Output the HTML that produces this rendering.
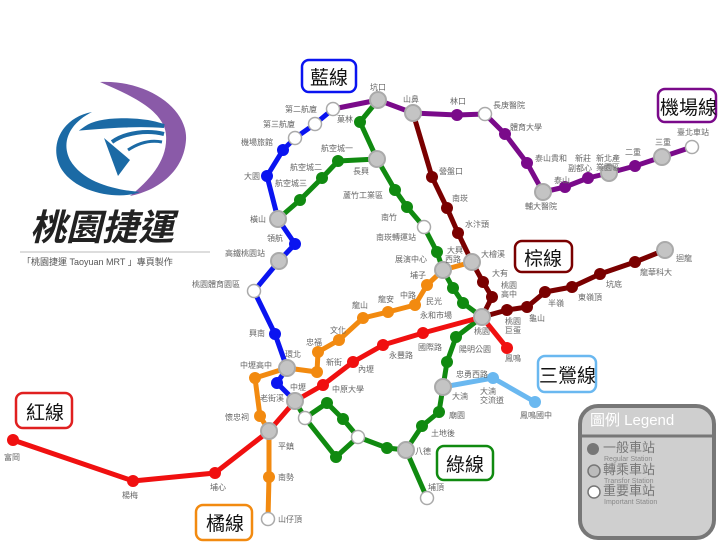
<!DOCTYPE html>
<html><head><meta charset="utf-8"><style>
html,body{margin:0;padding:0;background:#fff;}
svg{display:block;}
text{font-family:"Liberation Sans","Noto Sans CJK TC",sans-serif;}
.l{font-size:8px;fill:#666;}
</style></head><body>
<svg width="720" height="545" viewBox="0 0 720 545" xmlns="http://www.w3.org/2000/svg">
<rect width="720" height="545" fill="#fff"/>
<!-- logo -->
<path d="M100,82 C150,80 188,110 186,140 C184,170 160,190 130,196 C150,180 168,160 166,135 C164,110 130,95 100,82 Z" fill="#8a5aa8"/>
<path d="M92,112 C60,118 48,148 62,170 C78,194 120,200 140,192 C118,190 84,184 70,160 C60,140 72,122 92,112 Z" fill="#1b6aa5"/>
<path d="M86,128 C100,118 140,118 164,126 C140,124 108,126 86,128 Z" fill="#1b6aa5" stroke="#1b6aa5" stroke-width="4"/>
<path d="M112,142 C126,132 148,130 164,134" fill="none" stroke="#1b6aa5" stroke-width="4"/>
<path d="M128,150 C140,142 152,140 162,142" fill="none" stroke="#1b6aa5" stroke-width="3"/>
<path d="M104,138 L118,176 L130,160 Z" fill="#1b6aa5"/>
<text x="30" y="240" font-size="36" font-style="italic" font-weight="bold" fill="#222">桃園捷運</text>
<line x1="20" y1="252" x2="210" y2="252" stroke="#bbb" stroke-width="1"/>
<text x="22" y="265" font-size="9" fill="#555">「桃園捷運 Taoyuan MRT 」專頁製作</text>

<g fill="none" stroke-linecap="round" stroke-linejoin="round" stroke-width="5">
<polyline stroke="#0a14f0" points="333,109 315,124 295,138 283,150 267,176 278,219 295,244 279,261 254,291 275,334 287,368"/>
<polyline stroke="#0a14f0" points="287,368 277,383 295,401"/>
<polyline stroke="#7a0a8a" points="333,109 378,100 413,113 457,115 485,114 505,134 527,163 543,192 565,187 588,178 609,173 635,166 662,157 692,147"/>
<polyline stroke="#7a0000" points="413,113 432,177 447,208 458,233 472,262 483,282 492,297 482,317"/>
<polyline stroke="#7a0000" points="482,317 507,310 527,307 545,292 572,287 600,274 635,262 665,250"/>
<polyline stroke="#108a10" points="378,100 360,122 377,159 395,190 407,207 424,227 437,252 443,270 453,288 463,303 482,317 456,337 447,362 443,387 439,412 422,426 406,450 427,498"/>
<polyline stroke="#108a10" points="377,159 338,161 322,178 300,200 278,219"/>
<polyline stroke="#108a10" points="406,450 387,448 358,437 343,419 327,403 305,418 336,457 358,437"/>
<polyline stroke="#108a10" points="295,401 305,418"/>
<polyline stroke="#f28a10" points="472,262 443,270 427,285 415,305 388,312 363,318 339,340 318,352 317,372 287,368 255,378 260,416 269,431 269,477 268,519"/>
<polyline stroke="#f01010" points="13,440 133,481 215,473 269,431 295,401 323,385 353,362 383,345 423,333 482,317 507,348"/>
<polyline stroke="#6ab8f0" points="443,387 493,378 535,402"/>
</g>

<g>
<g fill="#0a14f0"><circle cx="283" cy="150" r="6"/><circle cx="267" cy="176" r="6"/><circle cx="295" cy="244" r="6"/><circle cx="275" cy="334" r="6"/><circle cx="277" cy="383" r="6"/></g>
<g fill="#7a0a8a"><circle cx="457" cy="115" r="6"/><circle cx="505" cy="134" r="6"/><circle cx="527" cy="163" r="6"/><circle cx="565" cy="187" r="6"/><circle cx="588" cy="178" r="6"/><circle cx="635" cy="166" r="6"/></g>
<g fill="#7a0000"><circle cx="432" cy="177" r="6"/><circle cx="447" cy="208" r="6"/><circle cx="458" cy="233" r="6"/><circle cx="483" cy="282" r="6"/><circle cx="492" cy="297" r="6"/><circle cx="507" cy="310" r="6"/><circle cx="527" cy="307" r="6"/><circle cx="545" cy="292" r="6"/><circle cx="572" cy="287" r="6"/><circle cx="600" cy="274" r="6"/><circle cx="635" cy="262" r="6"/></g>
<g fill="#108a10"><circle cx="360" cy="122" r="6"/><circle cx="338" cy="161" r="6"/><circle cx="322" cy="178" r="6"/><circle cx="300" cy="200" r="6"/><circle cx="395" cy="190" r="6"/><circle cx="407" cy="207" r="6"/><circle cx="437" cy="252" r="6"/><circle cx="453" cy="288" r="6"/><circle cx="463" cy="303" r="6"/><circle cx="456" cy="337" r="6"/><circle cx="447" cy="362" r="6"/><circle cx="439" cy="412" r="6"/><circle cx="422" cy="426" r="6"/><circle cx="387" cy="448" r="6"/><circle cx="343" cy="419" r="6"/><circle cx="327" cy="403" r="6"/><circle cx="336" cy="457" r="6"/></g>
<g fill="#f28a10"><circle cx="427" cy="285" r="6"/><circle cx="415" cy="305" r="6"/><circle cx="388" cy="312" r="6"/><circle cx="363" cy="318" r="6"/><circle cx="339" cy="340" r="6"/><circle cx="318" cy="352" r="6"/><circle cx="317" cy="372" r="6"/><circle cx="255" cy="378" r="6"/><circle cx="260" cy="416" r="6"/><circle cx="269" cy="477" r="6"/></g>
<g fill="#f01010"><circle cx="13" cy="440" r="6"/><circle cx="133" cy="481" r="6"/><circle cx="215" cy="473" r="6"/><circle cx="323" cy="385" r="6"/><circle cx="353" cy="362" r="6"/><circle cx="383" cy="345" r="6"/><circle cx="423" cy="333" r="6"/><circle cx="507" cy="348" r="6"/></g>
<g fill="#6ab8f0"><circle cx="493" cy="378" r="6"/><circle cx="535" cy="402" r="6"/></g>
</g>
<g fill="#c4c4c4" stroke="#aaa" stroke-width="2">
<circle cx="378" cy="100" r="8"/><circle cx="413" cy="113" r="8"/><circle cx="377" cy="159" r="8"/><circle cx="278" cy="219" r="8"/><circle cx="279" cy="261" r="8"/><circle cx="443" cy="270" r="8"/><circle cx="472" cy="262" r="8"/><circle cx="482" cy="317" r="8"/><circle cx="543" cy="192" r="8"/><circle cx="609" cy="173" r="8"/><circle cx="662" cy="157" r="8"/><circle cx="665" cy="250" r="8"/><circle cx="287" cy="368" r="8"/><circle cx="295" cy="401" r="8"/><circle cx="269" cy="431" r="8"/><circle cx="443" cy="387" r="8"/><circle cx="406" cy="450" r="8"/>
</g>
<g fill="#fff" stroke="#aaa" stroke-width="1.5">
<circle cx="333" cy="109" r="6.5"/><circle cx="315" cy="124" r="6.5"/><circle cx="295" cy="138" r="6.5"/><circle cx="254" cy="291" r="6.5"/><circle cx="485" cy="114" r="6.5"/><circle cx="692" cy="147" r="6.5"/><circle cx="424" cy="227" r="6.5"/><circle cx="305" cy="418" r="6.5"/><circle cx="358" cy="437" r="6.5"/><circle cx="427" cy="498" r="6.5"/><circle cx="268" cy="519" r="6.5"/>
</g>

<g class="l">
<text x="370" y="90">坑口</text><text x="403" y="102">山鼻</text><text x="450" y="104">林口</text><text x="493" y="108">長庚醫院</text><text x="510" y="130">體育大學</text><text x="535" y="161">泰山貴和</text><text x="575" y="161">新莊</text><text x="568" y="171">副都心</text><text x="554" y="183">泰山</text><text x="596" y="161">新北產</text><text x="596" y="170">業園區</text><text x="625" y="155">二重</text><text x="655" y="145">三重</text><text x="677" y="135">臺北車站</text><text x="525" y="209">輔大醫院</text>
<text x="285" y="112">第二航廈</text><text x="263" y="127">第三航廈</text><text x="241" y="145">機場旅館</text><text x="244" y="179">大園</text><text x="337" y="122">菓林</text>
<text x="321" y="151">航空城一</text><text x="290" y="170">航空城二</text><text x="275" y="186">航空城三</text><text x="353" y="174">長興</text><text x="343" y="198">蘆竹工業區</text><text x="381" y="220">南竹</text><text x="376" y="240">南崁轉運站</text><text x="395" y="262">展演中心</text><text x="447" y="253">大興</text><text x="445" y="262">西路</text>
<text x="250" y="222">橫山</text><text x="267" y="241">領航</text><text x="225" y="256">高鐵桃園站</text><text x="192" y="287">桃園體育園區</text><text x="249" y="336">興南</text>
<text x="439" y="174">營盤口</text><text x="452" y="201">南崁</text><text x="465" y="227">水汴頭</text><text x="481" y="257">大檜溪</text><text x="492" y="276">大有</text><text x="501" y="288">桃園</text><text x="501" y="297">高中</text><text x="505" y="324">桃園</text><text x="505" y="333">巨蛋</text><text x="529" y="321">龜山</text><text x="548" y="306">半嶺</text><text x="578" y="300">東嶺頂</text><text x="606" y="287">坑底</text><text x="640" y="275">龍華科大</text><text x="676" y="261">迴龍</text>
<text x="410" y="278">埔子</text><text x="400" y="298">中路</text><text x="378" y="302">龍安</text><text x="352" y="308">龍山</text><text x="330" y="333">文化</text><text x="306" y="345">忠福</text><text x="326" y="365">新街</text><text x="426" y="304">民光</text><text x="420" y="318">永和市場</text><text x="474" y="334">桃園</text><text x="240" y="368">中壢高中</text><text x="285" y="357">環北</text><text x="290" y="390">中壢</text><text x="260" y="401">老街溪</text><text x="225" y="420">懷忠祠</text><text x="278" y="449">平鎮</text><text x="278" y="480">南勢</text><text x="278" y="522">山仔頂</text>
<text x="332" y="392">中原大學</text><text x="358" y="372">內壢</text><text x="389" y="358">永豐路</text><text x="418" y="350">國際路</text><text x="459" y="352">陽明公園</text><text x="456" y="377">忠勇西路</text><text x="452" y="399">大湳</text><text x="480" y="394">大湳</text><text x="480" y="403">交流道</text><text x="520" y="418">鳳鳴國中</text><text x="449" y="418">廟園</text><text x="431" y="436">土地後</text><text x="415" y="454">八德</text><text x="428" y="490">埔頂</text><text x="505" y="361">鳳鳴</text>
<text x="4" y="460">富岡</text><text x="122" y="498">楊梅</text><text x="210" y="490">埔心</text>
</g>

<g fill="#fff" stroke-width="2.5">
<rect x="302" y="60" width="54" height="32" rx="7" stroke="#0a14f0"/>
<rect x="658" y="89" width="58" height="33" rx="7" stroke="#7a0a8a"/>
<rect x="515" y="241" width="57" height="31" rx="7" stroke="#7a0000"/>
<rect x="538" y="356" width="58" height="36" rx="7" stroke="#6ab8f0"/>
<rect x="16" y="393" width="56" height="35" rx="7" stroke="#e02020"/>
<rect x="196" y="505" width="56" height="35" rx="7" stroke="#f28a10"/>
<rect x="437" y="446" width="56" height="34" rx="7" stroke="#108a10"/>
</g>
<g font-size="19" fill="#111">
<text x="310" y="84">藍線</text><text x="660" y="114">機場線</text><text x="524" y="265">棕線</text><text x="539" y="382">三鶯線</text><text x="26" y="419">紅線</text><text x="206" y="530">橘線</text><text x="446" y="471">綠線</text>
</g>

<rect x="580" y="406" width="134" height="132" rx="18" fill="#cfcfcf" stroke="#777" stroke-width="4"/>
<line x1="580" y1="436" x2="714" y2="436" stroke="#777" stroke-width="3"/>
<text x="590" y="425" font-size="15" fill="#fff">圖例 Legend</text>
<circle cx="593" cy="449" r="6" fill="#777"/>
<text x="603" y="452" font-size="13" fill="#777">一般車站</text><text x="604" y="461" font-size="7" fill="#888">Regular Station</text>
<circle cx="594" cy="471" r="6" fill="#bbb" stroke="#777" stroke-width="1.5"/>
<text x="603" y="474" font-size="13" fill="#777">轉乘車站</text><text x="604" y="483" font-size="7" fill="#888">Transfor Station</text>
<circle cx="594" cy="492" r="6" fill="#fff" stroke="#777" stroke-width="1.5"/>
<text x="603" y="495" font-size="13" fill="#777">重要車站</text><text x="604" y="504" font-size="7" fill="#888">Important Station</text>
</svg>
</body></html>
